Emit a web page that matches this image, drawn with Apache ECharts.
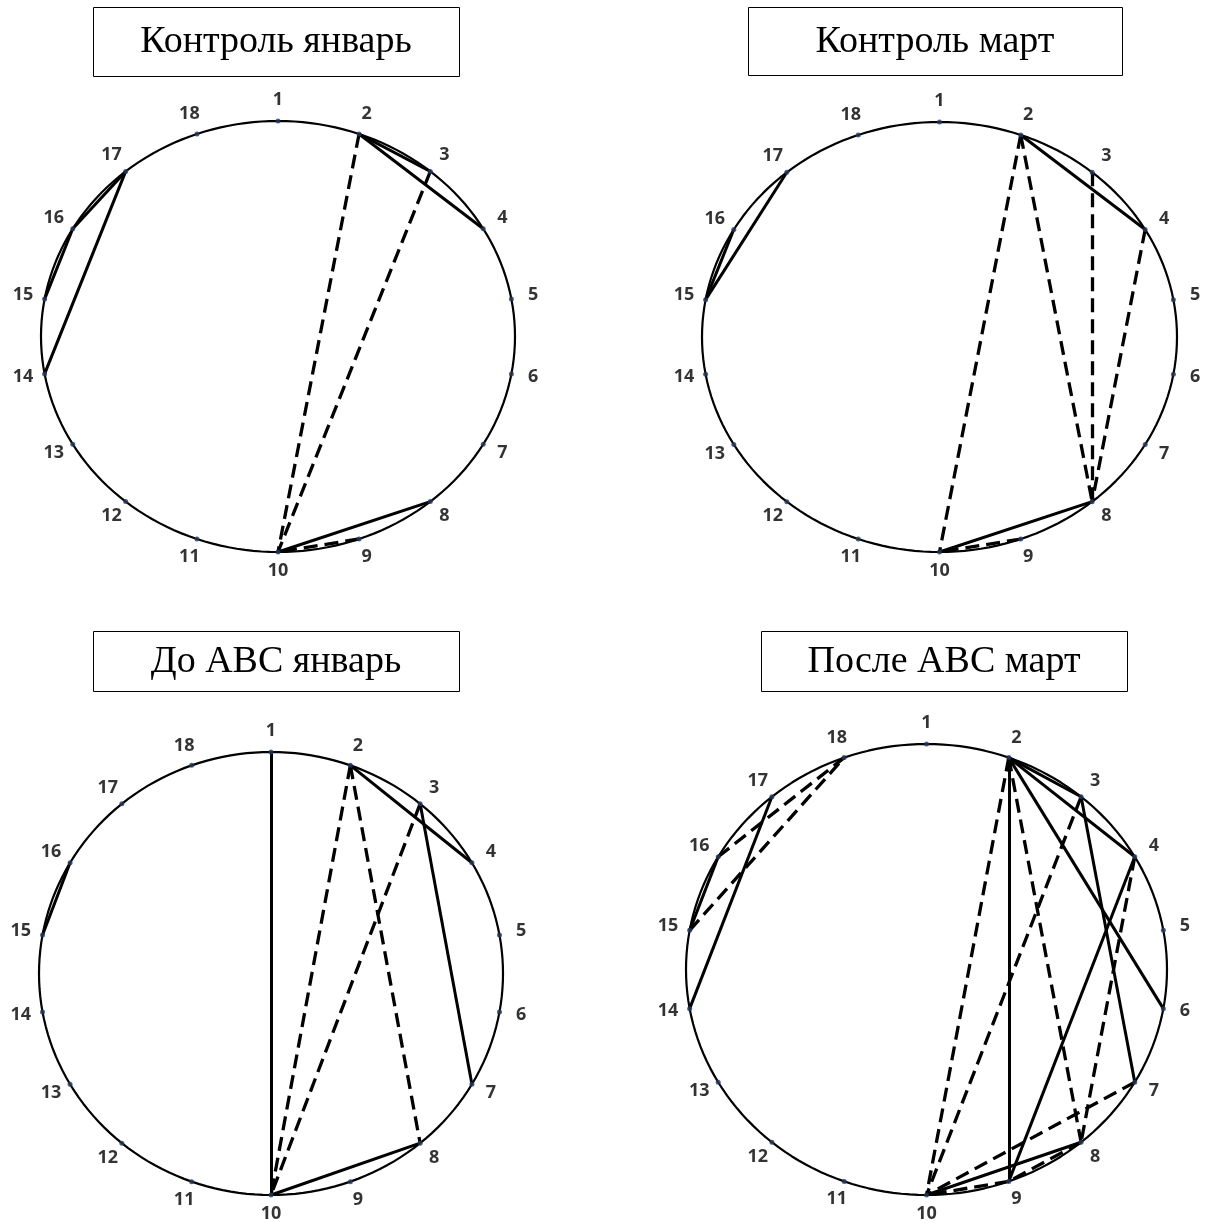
<!DOCTYPE html>
<html>
<head>
<meta charset="utf-8">
<script src="https://cdn.jsdelivr.net/npm/echarts@6/dist/echarts.min.js"></script>
<style>
  html, body { margin: 0; padding: 0; background: #fff; }
  #pleiades { width: 1206px; height: 1223px; }
</style>
</head>
<body>
<div id="pleiades"></div>
<script>
// подписи вершин (показатели 1..18)
const nodeNames = ['1', '2', '3', '4', '5', '6', '7', '8', '9', '10', '11', '12', '13', '14', '15', '16', '17', '18'];

const panelTitles = ['Контроль январь', 'Контроль март', 'До АВС январь', 'После АВС март'];

// связи: сплошные / пунктирные
const controlJanSolid = [[2, 3], [2, 4], [8, 10], [14, 17], [15, 16], [16, 17]];
const controlJanDashed = [[2, 10], [3, 10], [9, 10]];

const controlMarSolid = [[2, 4], [8, 10], [15, 16], [15, 17]];
const controlMarDashed = [[2, 10], [2, 8], [3, 8], [4, 8], [9, 10]];

const beforeJanSolid = [[1, 10], [2, 4], [3, 7], [8, 10], [15, 16]];
const beforeJanDashed = [[2, 10], [2, 8], [3, 10]];

const afterMarSolid = [[2, 3], [2, 4], [2, 6], [2, 9], [3, 7], [4, 9], [8, 10], [14, 17], [15, 16]];
const afterMarDashed = [[2, 10], [2, 8], [3, 10], [4, 8], [7, 10], [9, 10], [8, 9], [15, 18], [16, 18]];

const solidSets = [controlJanSolid, controlMarSolid, beforeJanSolid, afterMarSolid];
const dashedSets = [controlJanDashed, controlMarDashed, beforeJanDashed, afterMarDashed];

// раскладка панелей (эллипс = прямоугольник сетки)
const grids = [
  {left: 41, top: 121, width: 474, height: 431},
  {left: 702, top: 122, width: 475, height: 430},
  {left: 39, top: 752, width: 464, height: 443},
  {left: 686, top: 744, width: 481, height: 451},
];
const titleBoxes = [
  {x: 93, y: 7, w: 366, h: 69},
  {x: 748, y: 7, w: 374, h: 68},
  {x: 93, y: 631, w: 366, h: 60},
  {x: 761, y: 631, w: 366, h: 60},
];

function nodeAngle(n) {
  return (90 - (n - 1) * 20) * Math.PI / 180;
}
function nodePoint(n) {
  const a = nodeAngle(n);
  return [Math.cos(a), Math.sin(a)];
}

let chart = echarts.init(document.getElementById('pleiades'));

let option = {
  animation: false,
  backgroundColor: '#fff',
  grid: [],
  xAxis: [],
  yAxis: [],
  series: [],
  graphic: [],
};

let ring = [];
for (let d = 0; d <= 360; d += 2) {
  ring.push([Math.cos(d * Math.PI / 180), Math.sin(d * Math.PI / 180)]);
}

for (let p = 0; p < 4; p++) {
  option.grid.push(grids[p]);
  option.xAxis.push({type: 'value', gridIndex: p, min: -1, max: 1, show: false});
  option.yAxis.push({type: 'value', gridIndex: p, min: -1, max: 1, show: false});

  // окружность
  option.series.push({
    type: 'line',
    xAxisIndex: p,
    yAxisIndex: p,
    data: ring,
    showSymbol: false,
    symbol: 'none',
    silent: true,
    lineStyle: {color: '#000', width: 2.2},
    z: 1,
  });

  option.series.push({
    type: 'lines',
    coordinateSystem: 'cartesian2d',
    xAxisIndex: p,
    yAxisIndex: p,
    silent: true,
    data: solidSets[p].map(e => ({coords: [nodePoint(e[0]), nodePoint(e[1])]})),
    lineStyle: {color: '#000', width: 3, type: 'solid', opacity: 1},
    z: 2,
  });

  option.series.push({
    type: 'lines',
    coordinateSystem: 'cartesian2d',
    xAxisIndex: p,
    yAxisIndex: p,
    silent: true,
    data: dashedSets[p].map(e => ({coords: [nodePoint(e[0]), nodePoint(e[1])]})),
    lineStyle: {color: '#000', width: 3.3, type: [14, 7], opacity: 1},
    z: 2,
  });

  option.series.push({
    type: 'scatter',
    xAxisIndex: p,
    yAxisIndex: p,
    silent: true,
    symbolSize: 5,
    itemStyle: {color: '#243a5c'},
    z: 3,
    data: nodeNames.map((name, i) => {
      const a = nodeAngle(i + 1);
      return {
        name: name,
        value: nodePoint(i + 1),
        label: {
          show: true,
          position: 'inside',
          formatter: name,
          offset: [22 * Math.cos(a), -20 * Math.sin(a) - 1],
          color: '#000',
          fontFamily: 'Open Sans',
          fontWeight: 'bold',
          fontSize: 18,
        },
      };
    }),
  });

  const b = titleBoxes[p];
  option.graphic.push({
    type: 'rect',
    shape: {x: b.x + 0.5, y: b.y + 0.5, width: b.w, height: b.h},
    style: {fill: '#fff', stroke: '#000', lineWidth: 1},
  });
  option.graphic.push({
    type: 'text',
    x: b.x + b.w / 2,
    y: b.y + b.h / 2 + 1,
    style: {
      text: panelTitles[p],
      fill: '#000',
      font: '38px "Liberation Serif"',
      align: 'center',
      verticalAlign: 'middle',
    },
  });
}

chart.setOption(option);
</script>
</body>
</html>
